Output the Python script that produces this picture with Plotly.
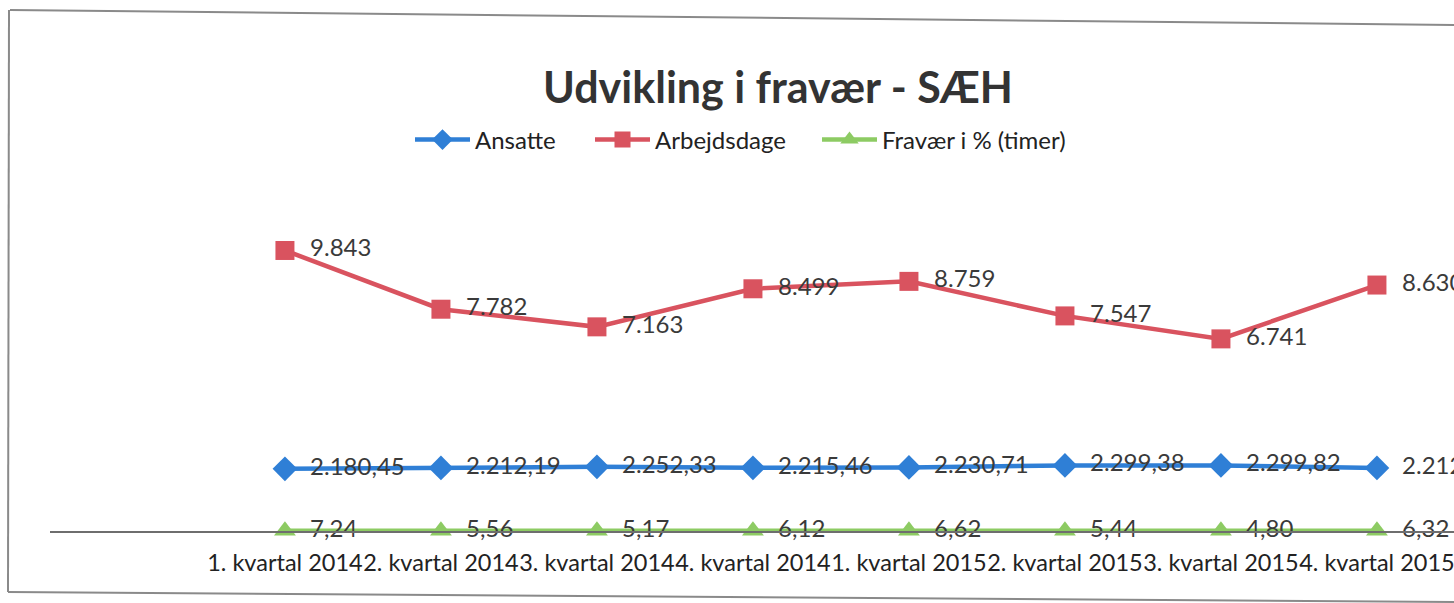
import plotly.graph_objects as go

categories = ["1. kvartal 2014", "2. kvartal 2014", "3. kvartal 2014", "4. kvartal 2014",
              "1. kvartal 2015", "2. kvartal 2015", "3. kvartal 2015", "4. kvartal 2015"]
ansatte = [2180.45, 2212.19, 2252.33, 2215.46, 2230.71, 2299.38, 2299.82, 2212.04]
arbejdsdage = [9843, 7782, 7163, 8499, 8759, 7547, 6741, 8630]
fravaer = [7.24, 5.56, 5.17, 6.12, 6.62, 5.44, 4.80, 6.32]

W, H = 1454, 603
L, R, T, B = 50, 0, 189, 72
PW, PH = W - L - R, H - T - B

def px(X):
    return (X - L) / PW

def py(Y):
    return (H - B - Y) / PH

FONT = "Lato"
LBL = dict(family=FONT, size=24, color="#3a3a3a")
PAD = "\u00a0\u00a0"

fig = go.Figure()
fig.add_trace(go.Scatter(
    x=categories, y=ansatte, name="Ansatte", mode="lines+markers+text",
    line=dict(color="#2f7fd6", width=4.5),
    marker=dict(symbol="diamond", size=19, color="#2f7fd6"),
    texttemplate=PAD + "%{y:,.2f}", textposition="middle right", textfont=LBL,
    cliponaxis=False, legend="legend"))
fig.add_trace(go.Scatter(
    x=categories, y=arbejdsdage, name="Arbejdsdage", mode="lines+markers+text",
    line=dict(color="#d9535f", width=4.5),
    marker=dict(symbol="square", size=19, color="#d9535f"),
    texttemplate=PAD + "%{y:,.0f}", textposition="middle right", textfont=LBL,
    cliponaxis=False, legend="legend2"))
fig.add_trace(go.Scatter(
    x=categories, y=fravaer, name="Fravær i % (timer)", mode="lines+markers+text",
    line=dict(color="#8dcb63", width=4.5),
    marker=dict(symbol="triangle-up", size=19, color="#8dcb63"),
    texttemplate=PAD + "%{y:,.2f}", textposition="middle right", textfont=LBL,
    cliponaxis=False, legend="legend3"))

frame = dict(type="line", xref="paper", yref="paper", line=dict(color="#8a8a8a", width=2))
shapes = [
    dict(frame, x0=px(10), y0=py(10), x1=px(1454), y1=py(25)),
    dict(frame, x0=px(9), y0=py(10), x1=px(8), y1=py(592)),
    dict(frame, x0=px(8), y0=py(592), x1=px(1454), y1=py(602)),
]

def leg(xpix):
    return dict(orientation="h", x=px(xpix), xanchor="left", y=py(140), yanchor="middle",
                font=dict(family=FONT, size=24, color="#222222"),
                bgcolor="rgba(0,0,0,0)", itemwidth=55)

fig.update_layout(
    width=W, height=H,
    margin=dict(l=L, r=R, t=T, b=B, autoexpand=False),
    paper_bgcolor="white", plot_bgcolor="white",
    separators=",.",
    font=dict(family=FONT, color="#222222"),
    title=dict(text="<b>Udvikling i fravær - SÆH</b>", x=778 / W, xanchor="center",
               xref="container", yref="container", y=1 - 88 / H, yanchor="middle",
               font=dict(family=FONT, size=43, color="#333333")),
    showlegend=True,
    legend=leg(410), legend2=leg(590), legend3=leg(817),
    xaxis=dict(type="category", range=[-1.506, 7.494], showgrid=False, zeroline=False,
               showline=True, linecolor="#6e6e6e", linewidth=1.5, ticks="",
               tickangle=0, tickfont=dict(family=FONT, size=23.5, color="#222222"),
               ticklabelstandoff=10, automargin=False),
    yaxis=dict(range=[0, 12000], visible=False, showgrid=False, zeroline=False),
    shapes=shapes,
)

fig.write_html("out.html", config={"displayModeBar": False},
               post_script="document.body.style.margin='0';document.body.style.overflow='hidden';")
